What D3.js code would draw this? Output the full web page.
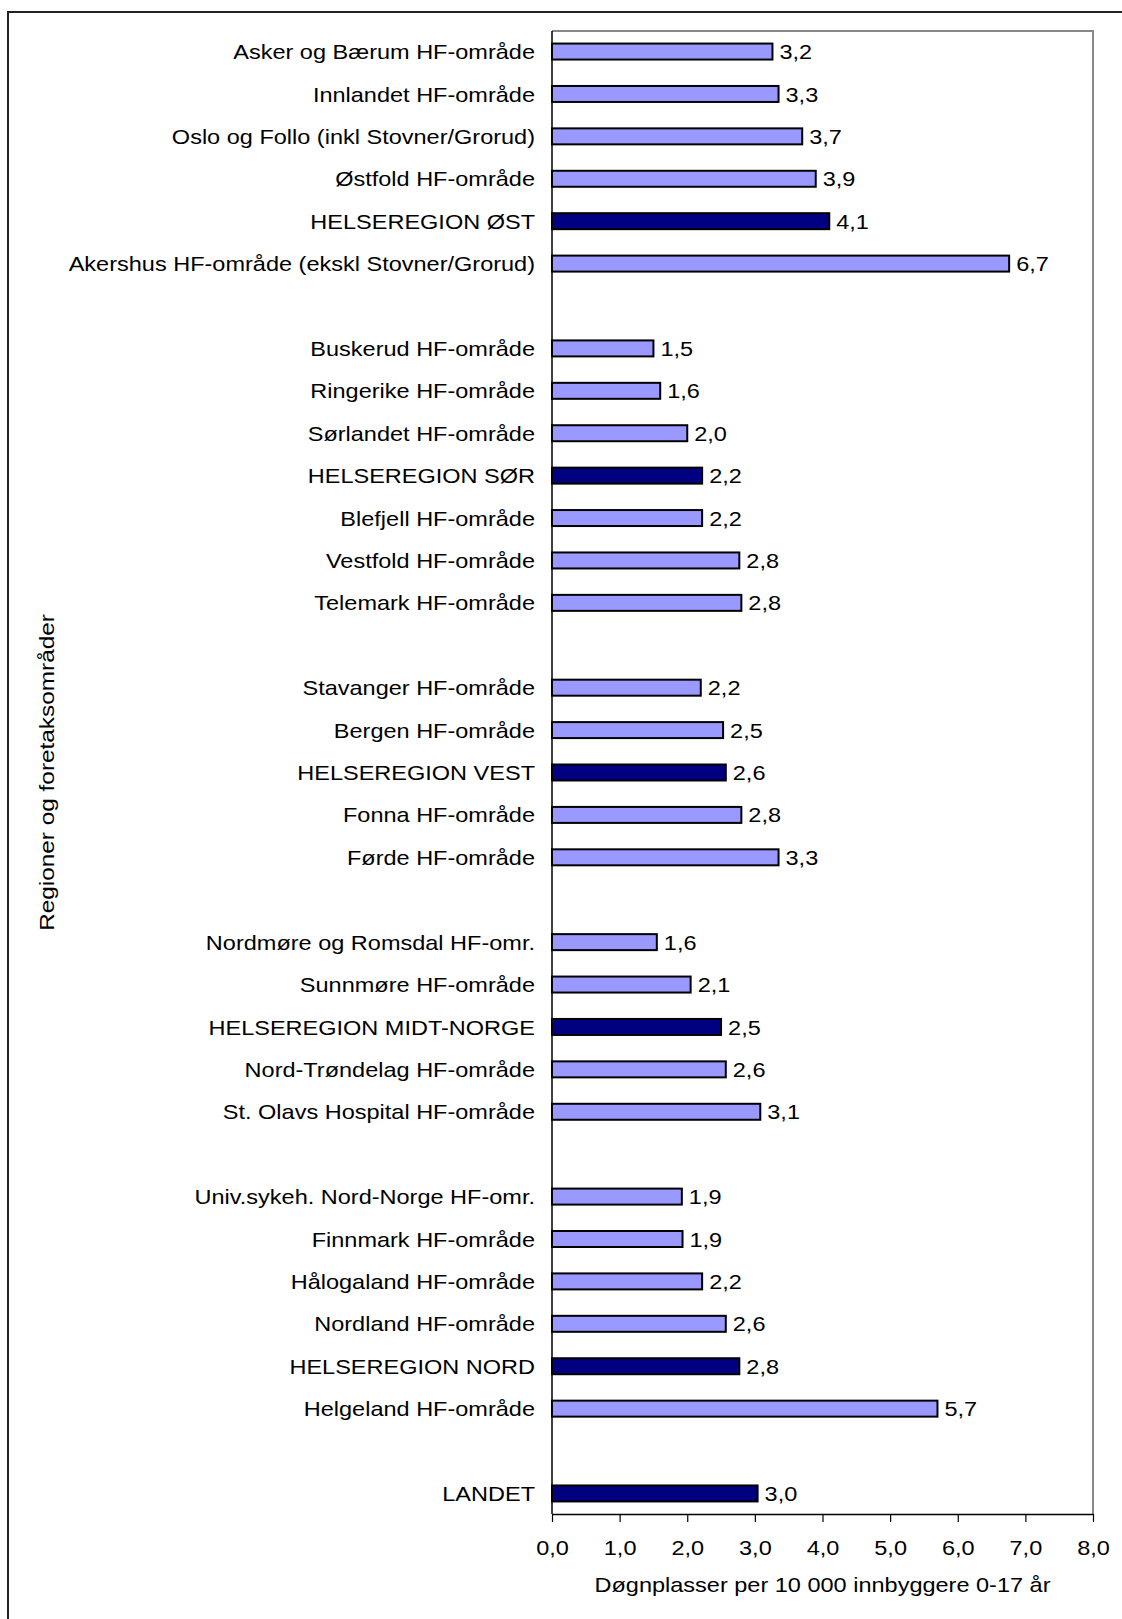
<!DOCTYPE html>
<html><head><meta charset="utf-8">
<script src="https://cdn.jsdelivr.net/npm/d3@7"></script>
<style>
html,body{margin:0;padding:0;background:#fff;}
svg{display:block;font-family:"Liberation Sans",Arial,sans-serif;}
</style></head>
<body>
<svg id="c" width="1122" height="1619"></svg>
<script>
// null entries are the blank gaps between regions
const categories = [
  "Asker og Bærum HF-område","Innlandet HF-område","Oslo og Follo (inkl Stovner/Grorud)","Østfold HF-område","HELSEREGION ØST","Akershus HF-område (ekskl Stovner/Grorud)",
  null,
  "Buskerud HF-område","Ringerike HF-område","Sørlandet HF-område","HELSEREGION SØR","Blefjell HF-område","Vestfold HF-område","Telemark HF-område",
  null,
  "Stavanger HF-område","Bergen HF-område","HELSEREGION VEST","Fonna HF-område","Førde HF-område",
  null,
  "Nordmøre og Romsdal HF-omr.","Sunnmøre HF-område","HELSEREGION MIDT-NORGE","Nord-Trøndelag HF-område","St. Olavs Hospital HF-område",
  null,
  "Univ.sykeh. Nord-Norge HF-omr.","Finnmark HF-område","Hålogaland HF-område","Nordland HF-område","HELSEREGION NORD","Helgeland HF-område",
  null,
  "LANDET"
];
const values = [
  3.26,3.35,3.7,3.9,4.1,6.76,
  null,
  1.5,1.6,2.0,2.22,2.22,2.77,2.8,
  null,
  2.2,2.53,2.57,2.8,3.35,
  null,
  1.55,2.05,2.5,2.57,3.08,
  null,
  1.92,1.93,2.22,2.57,2.77,5.7,
  null,
  3.04
];
const valueLabels = [
  "3,2","3,3","3,7","3,9","4,1","6,7",
  null,
  "1,5","1,6","2,0","2,2","2,2","2,8","2,8",
  null,
  "2,2","2,5","2,6","2,8","3,3",
  null,
  "1,6","2,1","2,5","2,6","3,1",
  null,
  "1,9","1,9","2,2","2,6","2,8","5,7",
  null,
  "3,0"
];
const xTicks = [0,1,2,3,4,5,6,7,8];
const xTickLabels = ["0,0","1,0","2,0","3,0","4,0","5,0","6,0","7,0","8,0"];
const xTitle = "Døgnplasser per 10 000 innbyggere 0-17 år";
const yTitle = "Regioner og foretaksområder";

const svg = d3.select("#c");
const L = 552, R = 1093, T = 31, B = 1514;
const FS = 21, SX = 1.12;

// outer frame
svg.append("rect").attr("x",8).attr("y",12).attr("width",1200).attr("height",1700)
  .attr("fill","none").attr("stroke","#222").attr("stroke-width",2);

const rows = categories.map((c,i)=>({key:"r"+i, cat:c, v:values[i], lab:valueLabels[i]}));
const y = d3.scaleBand().domain(rows.map(d=>d.key)).range([T,B]).paddingInner(0.623).paddingOuter(0.296);
const x = d3.scaleLinear().domain([0,8]).range([L,R]);

// plot area top/right border (gray)
svg.append("path").attr("d",`M${L},${T}H${R}V${B}`).attr("fill","none").attr("stroke","#888").attr("stroke-width",2);

const data = rows.filter(d=>d.cat!==null);
const isRegion = c => c.startsWith("HELSEREGION") || c==="LANDET";

svg.append("g").selectAll("rect").data(data).join("rect")
  .attr("x",x(0)).attr("y",d=>y(d.key)).attr("width",d=>x(d.v)-x(0)).attr("height",y.bandwidth())
  .attr("fill",d=>isRegion(d.cat)?"#000080":"#9999FF")
  .attr("stroke","#000").attr("stroke-width",2);

svg.append("g").selectAll("text").data(data).join("text")
  .attr("transform",d=>`translate(${x(d.v)+7},${y(d.key)+y.bandwidth()/2}) scale(${SX},1)`).attr("dy","0.36em")
  .attr("font-size",FS).attr("fill","#000").text(d=>d.lab);

// category labels
svg.append("g").selectAll("text").data(data).join("text")
  .attr("transform",d=>`translate(535,${y(d.key)+y.bandwidth()/2}) scale(${SX},1)`).attr("dy","0.36em")
  .attr("text-anchor","end").attr("font-size",FS).attr("fill","#000").text(d=>d.cat);

// y axis line
svg.append("line").attr("x1",L).attr("x2",L).attr("y1",T).attr("y2",B).attr("stroke","#000").attr("stroke-width",1.5);

// x axis
const xa = svg.append("g").attr("transform",`translate(0,${B})`)
  .call(d3.axisBottom(x).tickValues(xTicks).tickFormat((d,i)=>xTickLabels[i]).tickSizeInner(8).tickSizeOuter(0).tickPadding(0));
xa.select(".domain").attr("stroke","#000").attr("stroke-width",1.5);
xa.selectAll(".tick line").attr("stroke","#000").attr("stroke-width",1.2);
xa.selectAll(".tick text").attr("font-size",FS).attr("fill","#000").attr("font-family","'Liberation Sans',Arial,sans-serif")
  .attr("y",null).attr("dy","0.36em").attr("transform",`translate(0,33) scale(${SX},1)`);

svg.append("text").attr("transform",`translate(${(L+R)/2},1584) scale(${SX},1)`).attr("dy","0.36em").attr("text-anchor","middle")
  .attr("font-size",FS).text(xTitle);
svg.append("text").attr("transform",`translate(46,${(T+B)/2}) rotate(-90) scale(1.16,1)`).attr("dy","0.36em").attr("text-anchor","middle")
  .attr("font-size",FS).text(yTitle);
</script>
</body></html>
